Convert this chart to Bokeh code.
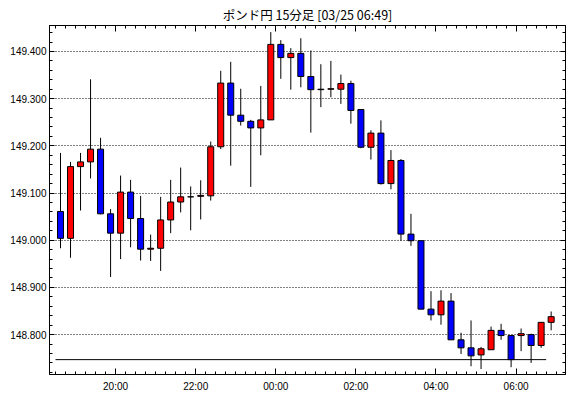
import numpy as np
import pandas as pd
from bokeh.plotting import figure
from bokeh.models import (ColumnDataSource, FixedTicker, DatetimeAxis, LinearAxis,
                          Range1d, DatetimeTickFormatter, PrintfTickFormatter,
                          CustomJSTickFormatter)
from bokeh.embed import file_html
from bokeh.resources import INLINE

# ---- data ----
title_text = "ポンド円 15分足 [03/25 06:49]"
start_time = "2024-03-24 18:30"
n_candles = 50
opens = [149.061, 149.004, 149.156, 149.166, 149.193, 149.056, 149.015, 149.102, 149.046, 148.981,
         148.983, 149.043, 149.081, 149.092, 149.093, 149.094, 149.198, 149.333, 149.265, 149.252,
         149.238, 149.255, 149.415, 149.387, 149.396, 149.347, 149.319, 149.320, 149.320, 149.332,
         149.277, 149.197, 149.227, 149.120, 149.169, 149.013, 148.999, 148.854, 148.842, 148.871,
         148.789, 148.772, 148.757, 148.768, 148.809, 148.798, 148.798, 148.800, 148.777, 148.826]
highs = [149.185, 149.166, 149.185, 149.341, 149.217, 149.066, 149.137, 149.128, 149.094, 149.012,
         149.092, 149.128, 149.154, 149.114, 149.127, 149.209, 149.359, 149.378, 149.321, 149.255,
         149.327, 149.441, 149.424, 149.407, 149.428, 149.402, 149.373, 149.380, 149.351, 149.338,
         149.277, 149.233, 149.254, 149.191, 149.172, 149.056, 148.999, 148.892, 148.894, 148.888,
         148.804, 148.830, 148.774, 148.817, 148.823, 148.798, 148.813, 148.802, 148.826, 148.849]
lows = [148.983, 148.963, 149.063, 149.131, 149.055, 148.922, 148.960, 148.985, 148.957, 148.956,
        148.935, 149.015, 149.059, 149.021, 149.044, 149.084, 149.193, 149.158, 149.243, 149.113,
        149.180, 149.255, 149.342, 149.319, 149.324, 149.228, 149.282, 149.303, 149.289, 149.247,
        149.195, 149.171, 149.118, 149.108, 148.999, 148.988, 148.854, 148.830, 148.821, 148.789,
        148.759, 148.733, 148.727, 148.768, 148.789, 148.731, 148.765, 148.740, 148.772, 148.809]
closes = [149.004, 149.156, 149.166, 149.193, 149.056, 149.015, 149.102, 149.046, 148.981, 148.983,
          149.043, 149.081, 149.092, 149.092, 149.095, 149.198, 149.333, 149.265, 149.252, 149.238,
          149.255, 149.415, 149.387, 149.396, 149.347, 149.319, 149.320, 149.321, 149.332, 149.275,
          149.197, 149.227, 149.120, 149.169, 149.013, 148.999, 148.854, 148.842, 148.871, 148.789,
          148.772, 148.755, 148.770, 148.809, 148.798, 148.747, 148.802, 148.777, 148.826, 148.838]
ref_level = 148.747
y_ticks = [148.8, 148.9, 149.0, 149.1, 149.2, 149.3, 149.4]
x_tick_times = ["2024-03-24 20:00", "2024-03-24 22:00", "2024-03-25 00:00",
                "2024-03-25 02:00", "2024-03-25 04:00", "2024-03-25 06:00"]
y_range_vals = (148.7155, 149.455)
x_range_times = ("2024-03-24 18:21", "2024-03-25 07:14")

# ---- build ----
times = pd.date_range(start_time, periods=n_candles, freq="15min")
MS = 60 * 1000
t_ms = np.array([t.value // 10**6 for t in times], dtype=float)
centers = t_ms + 7.5 * MS
o = np.array(opens); c = np.array(closes)
colors = ["#FF0000" if cc >= oo else "#0000FF" for oo, cc in zip(o, c)]
src = ColumnDataSource(dict(x=centers, top=np.maximum(o, c), bottom=np.minimum(o, c),
                            high=highs, low=lows, color=colors))

xr0 = pd.Timestamp(x_range_times[0]).value // 10**6
xr1 = pd.Timestamp(x_range_times[1]).value // 10**6

p = figure(width=570, height=398, x_axis_type="datetime",
           x_range=Range1d(xr0, xr1), y_range=Range1d(*y_range_vals),
           output_backend="svg", toolbar_location=None,
           min_border_left=49, min_border_right=5, min_border_top=24, min_border_bottom=24)
p.background_fill_color = "white"
p.border_fill_color = "white"
p.outline_line_color = "black"
p.outline_line_width = 1

p.title.text = title_text
p.title.align = "center"
p.title.text_font = "Noto Sans CJK JP"
p.title.text_font_size = "12.5px"
p.title.text_font_style = "normal"
p.title.text_color = "black"
p.title.standoff = 4

x_major = [pd.Timestamp(t).value // 10**6 for t in x_tick_times]
x_minor = list(np.arange(t_ms[0] - 15 * MS, xr1, 15 * MS))
xticker = FixedTicker(ticks=x_major, minor_ticks=x_minor)
y_minor = list(np.round(np.arange(148.72, 149.455, 0.02), 3))
yticker = FixedTicker(ticks=y_ticks, minor_ticks=y_minor)
fmt = DatetimeTickFormatter(hours="%H:%M", days="%H:%M", minutes="%H:%M", hourmin="%H:%M")
blank = CustomJSTickFormatter(code="return '';")

def style_axis(ax, major_in, minor_in, labels=True):
    ax.axis_line_color = "black"
    ax.major_tick_line_color = "black"
    ax.minor_tick_line_color = "black"
    ax.major_tick_out = 0
    ax.minor_tick_out = 0
    ax.major_tick_in = major_in
    ax.minor_tick_in = minor_in
    if labels:
        ax.major_label_text_font = "Liberation Sans"
        ax.major_label_text_font_size = "10px"
        ax.major_label_text_color = "black"
    else:
        ax.formatter = blank
        ax.major_label_standoff = 0

xb = p.xaxis[0]
xb.ticker = xticker
xb.formatter = fmt
style_axis(xb, 6, 3)
xb.major_label_standoff = 6

yl = p.yaxis[0]
yl.ticker = yticker
yl.formatter = PrintfTickFormatter(format="%.3f")
style_axis(yl, 5, 3)
yl.major_label_standoff = 3

xt = DatetimeAxis(ticker=xticker)
style_axis(xt, 6, 3, labels=False)
p.add_layout(xt, "above")
yr = LinearAxis(ticker=yticker)
style_axis(yr, 5, 3, labels=False)
p.add_layout(yr, "right")

p.xgrid.visible = False
p.ygrid.ticker = yticker
p.ygrid.grid_line_color = "black"
p.ygrid.grid_line_dash = "1 2"
p.ygrid.grid_line_width = 1

p.segment(x0=t_ms[0], y0=ref_level, x1=t_ms[-1], y1=ref_level, line_color="black", line_width=1)
p.segment(x0="x", y0="high", x1="x", y1="low", source=src, line_color="black", line_width=1)
p.vbar(x="x", width=9 * MS, top="top", bottom="bottom", source=src,
       fill_color="color", line_color="black", line_width=1)

open("out.html", "w").write(file_html(p, INLINE))
